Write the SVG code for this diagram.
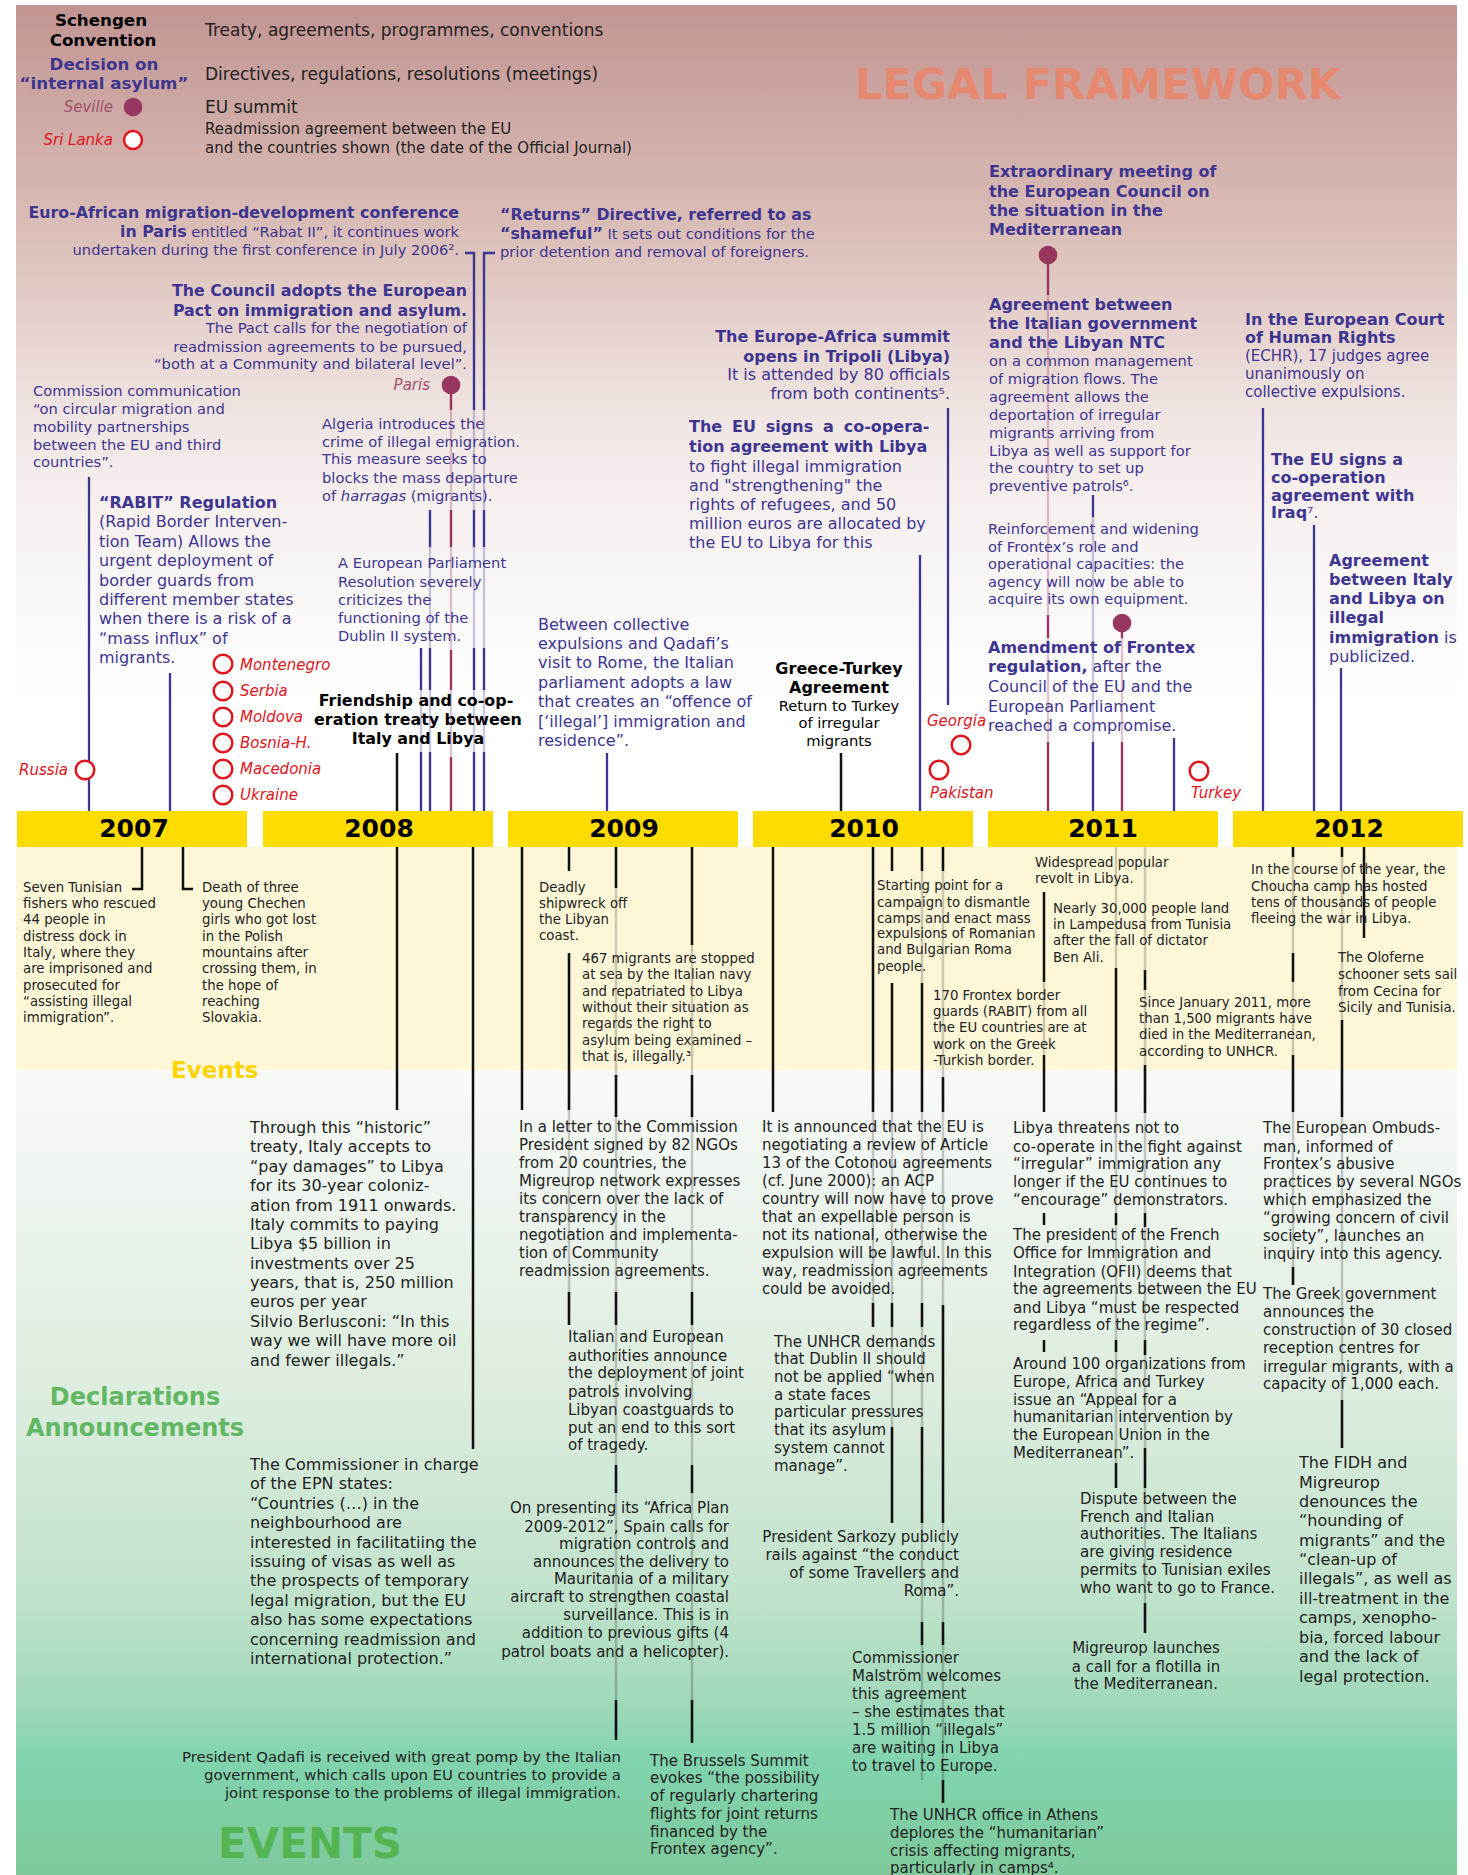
<svg xmlns="http://www.w3.org/2000/svg" width="1468" height="1875" viewBox="0 0 1468 1875">
<defs>
<linearGradient id="gLegal" x1="0" y1="0" x2="0" y2="1">
<stop offset="0" stop-color="#c19492"/>
<stop offset="0.29" stop-color="#dcbfb9"/>
<stop offset="0.49" stop-color="#eee2df"/>
<stop offset="0.57" stop-color="#f4ecea"/>
<stop offset="0.76" stop-color="#fbf9f9"/>
<stop offset="0.87" stop-color="#ffffff"/>
</linearGradient>
<linearGradient id="gDecl" x1="0" y1="0" x2="0" y2="1">
<stop offset="0" stop-color="#f8faf7"/>
<stop offset="0.41" stop-color="#dcecde"/>
<stop offset="0.66" stop-color="#bfe2cb"/>
<stop offset="0.78" stop-color="#a2d9bb"/>
<stop offset="0.86" stop-color="#80d3ae"/>
<stop offset="1" stop-color="#7fc99c"/>
</linearGradient>
<style>
text{font-family:"DejaVu Sans",Verdana,sans-serif}
.b{font-weight:bold}
.i{font-style:italic}
.pu{fill:#3d3590}
.dk{fill:#222}
.bk{fill:#000}
.red{fill:#e0141c}
.mvt{fill:#a0506e}
.f13{font-size:13.3px}
.f147{font-size:14.7px}
.f15{font-size:15px}
.f16{font-size:16px}
.f17{font-size:17px}
.bar{fill:#ffdc00}
.yr{font-size:25px;font-weight:bold;fill:#000;text-anchor:middle}
.cr{fill:#fff;stroke:#e0141c;stroke-width:2.5}
.cf{fill:#97365f}
.lp{stroke:#3d3590;stroke-width:2.3;fill:none}
.lpf{stroke:#3d3590;stroke-opacity:0.28;stroke-width:2.3;fill:none}
.lm{stroke:#97365f;stroke-width:2.3;fill:none}
.lmf{stroke:#97365f;stroke-opacity:0.3;stroke-width:2.3;fill:none}
.lk{stroke:#111;stroke-width:2.5;fill:none}
.lkf{stroke:#000;stroke-opacity:0.2;stroke-width:2.5;fill:none}
</style>
</defs>

<g id="background">
<rect x="16" y="5" width="1441" height="806" fill="url(#gLegal)"/>
<rect x="16" y="847" width="1441" height="223" fill="#fdf7d7"/>
<rect x="16" y="1070" width="1441" height="805" fill="url(#gDecl)"/>
</g>

<g id="section-labels">
<text x="855" y="99" class="b" font-size="43" fill="#e5886f">LEGAL FRAMEWORK</text>
<text x="171" y="1078" class="b" font-size="23" fill="#ffd400">Events</text>
<text class="b" font-size="24" fill="#62b862" text-anchor="middle"><tspan x="135" y="1405">Declarations</tspan><tspan x="135" y="1436">Announcements</tspan></text>
<text x="218" y="1858" class="b" font-size="42" fill="#55b452">EVENTS</text>
</g>

<g id="legend">
<text class="b bk" font-size="16.7" text-anchor="middle"><tspan x="101" y="26">Schengen</tspan><tspan x="103" y="46">Convention</tspan></text>
<text class="b pu" font-size="16.7" text-anchor="middle"><tspan x="104" y="70">Decision on</tspan><tspan x="104" y="89">“internal asylum”</tspan></text>
<text class="i mvt f15" x="113" y="112" text-anchor="end">Seville</text>
<circle class="cf" cx="133" cy="107" r="9.3"/>
<text class="i red f15" x="113" y="145" text-anchor="end">Sri Lanka</text>
<circle class="cr" cx="133" cy="140" r="9"/>
<text class="dk f17" x="205" y="36">Treaty, agreements, programmes, conventions</text>
<text class="dk f17" x="205" y="80">Directives, regulations, resolutions (meetings)</text>
<text class="dk f17" x="205" y="113">EU summit</text>
<text class="dk f15"><tspan x="205" y="134">Readmission agreement between the EU</tspan><tspan x="205" y="153">and the countries shown (the date of the Official Journal)</tspan></text>
</g>

<g id="connectors">
<path class="lpf" d="M421,648V811M430,510V811M474,253V811M484,253V811M1093,495V811"/>
<path class="lp" d="M89,477V811M170,673V811M421,648V690M421,752V811M430,510V547M430,648V690M430,752V811M465,253H474V410M474,510V547M474,648V690M474,752V811M495,253H484V410M484,510V547M484,648V690M484,752V811M607,753V811M920,555V811M948,408V705M1093,495V517M1093,742V811M1174,738V811M1263,408V811M1314,525V811M1341,668V811"/>
<path class="lmf" d="M451,394V811M1048,264V811M1122,632V811"/>
<path class="lm" d="M451,394V410M451,510V547M451,650V690M451,757V811M1048,264V295M1048,615V638M1048,742V811M1122,632V638M1122,742V811"/>
<path class="lk" d="M397,753V811M841,753V811"/>
<path class="lkf" d="M569,953V1325M616,847V1740M692,847V1743M873,847V1327M892,983V1523M922,847V1780M943,847V1803M1044,982V1055M1116,847V1488M1145,847V1633M1293,847V1285M1342,847V1448"/>
<path class="lk" d="M142,847V889H132M183,847V889H193M397,847V1110M473,847V1449M522,847V1110M569,847V871M569,953V1110M569,1292V1325M616,847V888M616,1075V1117M616,1292V1325M616,1465V1493M616,1700V1740M692,847V945M692,1075V1117M692,1292V1325M692,1465V1493M692,1700V1743M773,847V1112M873,847V1112M873,1303V1327M892,847V871M892,983V1112M892,1303V1327M892,1427V1523M922,847V871M922,983V1112M922,1303V1327M922,1427V1523M922,1622V1645M943,847V871M943,1077V1112M943,1305V1523M943,1622V1645M943,1780V1803M1044,892V982M1044,1055V1112M1044,1213V1225M1044,1340V1352M1116,968V1112M1116,1213V1225M1116,1340V1352M1116,1463V1488M1145,970V990M1145,1065V1113M1145,1213V1227M1145,1340V1355M1145,1448V1488M1145,1603V1633M1293,847V857M1293,953V982M1293,1055V1112M1293,1267V1285M1342,847V857M1342,1020V1117M1342,1400V1448M1364,847V938"/>
</g>

<g id="year-bars">
<rect class="bar" x="17" y="811" width="230" height="36"/>
<rect class="bar" x="263" y="811" width="230" height="36"/>
<rect class="bar" x="508" y="811" width="230" height="36"/>
<rect class="bar" x="753" y="811" width="220" height="36"/>
<rect class="bar" x="988" y="811" width="230" height="36"/>
<rect class="bar" x="1233" y="811" width="230" height="36"/>
<text class="yr" x="134" y="837">2007</text>
<text class="yr" x="379" y="837">2008</text>
<text class="yr" x="624" y="837">2009</text>
<text class="yr" x="864" y="837">2010</text>
<text class="yr" x="1103" y="837">2011</text>
<text class="yr" x="1349" y="837">2012</text>
</g>

<g id="readmission-circles">
<circle class="cr" cx="85" cy="770" r="9.3"/>
<text class="i red f15" x="68" y="775" text-anchor="end">Russia</text>
<circle class="cr" cx="223" cy="664" r="9.3"/>
<circle class="cr" cx="223" cy="691" r="9.3"/>
<circle class="cr" cx="223" cy="717" r="9.3"/>
<circle class="cr" cx="223" cy="743" r="9.3"/>
<circle class="cr" cx="223" cy="769" r="9.3"/>
<circle class="cr" cx="223" cy="795" r="9.3"/>
<text class="i red f15"><tspan x="240" y="670">Montenegro</tspan><tspan x="240" y="696">Serbia</tspan><tspan x="240" y="722">Moldova</tspan><tspan x="240" y="748">Bosnia-H.</tspan><tspan x="240" y="774">Macedonia</tspan><tspan x="240" y="800">Ukraine</tspan></text>
<circle class="cr" cx="961" cy="745" r="9.3"/>
<text class="i red f15" x="927" y="726">Georgia</text>
<circle class="cr" cx="939" cy="770" r="9.3"/>
<text class="i red f15" x="930" y="798">Pakistan</text>
<circle class="cr" cx="1199" cy="771" r="9.3"/>
<text class="i red f15" x="1191" y="798">Turkey</text>
</g>

<g id="legal-2007">
<text class="pu f147"><tspan x="33" y="396">Commission communication</tspan><tspan x="33" y="414">“on circular migration and</tspan><tspan x="33" y="432">mobility partnerships</tspan><tspan x="33" y="450">between the EU and third</tspan><tspan x="33" y="467">countries”.</tspan></text>
<text class="pu f16"><tspan x="99" y="508" class="b">“RABIT” Regulation</tspan><tspan x="99" y="527">(Rapid Border Interven-</tspan><tspan x="99" y="547">tion Team) Allows the</tspan><tspan x="99" y="566">urgent deployment of</tspan><tspan x="99" y="586">border guards from</tspan><tspan x="99" y="605">different member states</tspan><tspan x="99" y="624">when there is a risk of a</tspan><tspan x="99" y="644">“mass influx” of</tspan><tspan x="99" y="663">migrants.</tspan></text>
</g>

<g id="legal-2008">
<text class="pu f147" text-anchor="end"><tspan x="459" y="218" class="b" font-size="15.8">Euro-African migration-development conference</tspan><tspan x="459" y="237"><tspan class="b" font-size="15.8">in Paris</tspan> entitled “Rabat II”, it continues work</tspan><tspan x="459" y="255">undertaken during the first conference in July 2006².</tspan></text>
<text class="pu f147"><tspan x="500" y="220" class="b" font-size="15.8">“Returns” Directive, referred to as</tspan><tspan x="500" y="239"><tspan class="b" font-size="15.8">“shameful”</tspan> It sets out conditions for the</tspan><tspan x="500" y="257">prior detention and removal of foreigners.</tspan></text>
<text class="pu f147" text-anchor="end"><tspan x="467" y="296" class="b" font-size="15.8">The Council adopts the European</tspan><tspan x="467" y="316" class="b" font-size="15.8">Pact on immigration and asylum.</tspan><tspan x="467" y="333">The Pact calls for the negotiation of</tspan><tspan x="467" y="352">readmission agreements to be pursued,</tspan><tspan x="467" y="369">“both at a Community and bilateral level”.</tspan></text>
<text class="i mvt f15" x="430" y="390" text-anchor="end">Paris</text>
<circle class="cf" cx="451" cy="385" r="9.3"/>
<text class="pu f147"><tspan x="322" y="429">Algeria introduces the</tspan><tspan x="322" y="447">crime of illegal emigration.</tspan><tspan x="322" y="464">This measure seeks to</tspan><tspan x="322" y="483">blocks the mass departure</tspan><tspan x="322" y="501">of <tspan class="i">harragas</tspan> (migrants).</tspan></text>
<text class="pu f147"><tspan x="338" y="568">A European Parliament</tspan><tspan x="338" y="587">Resolution severely</tspan><tspan x="338" y="605">criticizes the</tspan><tspan x="338" y="623">functioning of the</tspan><tspan x="338" y="641">Dublin II system.</tspan></text>
<text class="b bk" font-size="15.9" text-anchor="middle"><tspan x="416" y="706">Friendship and co-op-</tspan><tspan x="418" y="725">eration treaty between</tspan><tspan x="418" y="744">Italy and Libya</tspan></text>
</g>

<g id="legal-2009">
<text class="pu f16"><tspan x="538" y="630">Between collective</tspan><tspan x="538" y="649">expulsions and Qadafi’s</tspan><tspan x="538" y="668">visit to Rome, the Italian</tspan><tspan x="538" y="688">parliament adopts a law</tspan><tspan x="538" y="707">that creates an “offence of</tspan><tspan x="538" y="727">[‘illegal’] immigration and</tspan><tspan x="538" y="746">residence”.</tspan></text>
</g>

<g id="legal-2010">
<text class="pu f16" text-anchor="end"><tspan x="950" y="342" class="b">The Europe-Africa summit</tspan><tspan x="950" y="362" class="b">opens in Tripoli (Libya)</tspan><tspan x="950" y="380">It is attended by 80 officials</tspan><tspan x="950" y="399">from both continents⁵.</tspan></text>
<text class="pu f16"><tspan x="689" y="432" class="b" word-spacing="4.3">The EU signs a co-opera-</tspan><tspan x="689" y="452" class="b">tion agreement with Libya</tspan><tspan x="689" y="472">to fight illegal immigration</tspan><tspan x="689" y="491">and "strengthening" the</tspan><tspan x="689" y="510">rights of refugees, and 50</tspan><tspan x="689" y="529">million euros are allocated by</tspan><tspan x="689" y="548">the EU to Libya for this</tspan></text>
<text class="bk" text-anchor="middle"><tspan x="839" y="674" class="b f16">Greece-Turkey</tspan><tspan x="839" y="693" class="b f16">Agreement</tspan><tspan x="839" y="711" class="f147">Return to Turkey</tspan><tspan x="839" y="728" class="f147">of irregular</tspan><tspan x="839" y="746" class="f147">migrants</tspan></text>
</g>

<g id="legal-2011">
<text class="pu b f16"><tspan x="989" y="177">Extraordinary meeting of</tspan><tspan x="989" y="197">the European Council on</tspan><tspan x="989" y="216">the situation in the</tspan><tspan x="989" y="235">Mediterranean</tspan></text>
<circle class="cf" cx="1048" cy="255" r="9.3"/>
<text class="pu f147"><tspan x="989" y="310" class="b f16">Agreement between</tspan><tspan x="989" y="329" class="b f16">the Italian government</tspan><tspan x="989" y="348" class="b f16">and the Libyan NTC</tspan><tspan x="989" y="366">on a common management</tspan><tspan x="989" y="384">of migration flows. The</tspan><tspan x="989" y="402">agreement allows the</tspan><tspan x="989" y="420">deportation of irregular</tspan><tspan x="989" y="438">migrants arriving from</tspan><tspan x="989" y="456">Libya as well as support for</tspan><tspan x="989" y="473">the country to set up</tspan><tspan x="989" y="491">preventive patrols⁶.</tspan></text>
<text class="pu f147"><tspan x="988" y="534">Reinforcement and widening</tspan><tspan x="988" y="552">of Frontex’s role and</tspan><tspan x="988" y="569">operational capacities: the</tspan><tspan x="988" y="587">agency will now be able to</tspan><tspan x="988" y="604">acquire its own equipment.</tspan></text>
<circle class="cf" cx="1122" cy="623" r="9.3"/>
<text class="pu f16"><tspan x="988" y="653" class="b">Amendment of Frontex</tspan><tspan x="988" y="672"><tspan class="b">regulation,</tspan> after the</tspan><tspan x="988" y="692">Council of the EU and the</tspan><tspan x="988" y="712">European Parliament</tspan><tspan x="988" y="731">reached a compromise.</tspan></text>
</g>

<g id="legal-2012">
<text class="pu f15"><tspan x="1245" y="325" class="b f16">In the European Court</tspan><tspan x="1245" y="343" class="b f16">of Human Rights</tspan><tspan x="1245" y="361">(ECHR), 17 judges agree</tspan><tspan x="1245" y="379">unanimously on</tspan><tspan x="1245" y="397">collective expulsions.</tspan></text>
<text class="pu b f16"><tspan x="1271" y="465">The EU signs a</tspan><tspan x="1271" y="483">co-operation</tspan><tspan x="1271" y="501">agreement with</tspan><tspan x="1271" y="518">Iraq<tspan font-weight="normal">⁷.</tspan></tspan></text>
<text class="pu f16"><tspan x="1329" y="566" class="b">Agreement</tspan><tspan x="1329" y="585" class="b">between Italy</tspan><tspan x="1329" y="604" class="b">and Libya on</tspan><tspan x="1329" y="623" class="b">illegal</tspan><tspan x="1329" y="643"><tspan class="b">immigration</tspan> is</tspan><tspan x="1329" y="662">publicized.</tspan></text>
</g>

<g id="events-2007">
<text class="dk f13"><tspan x="23" y="892">Seven Tunisian</tspan><tspan x="23" y="908">fishers who rescued</tspan><tspan x="23" y="924">44 people in</tspan><tspan x="23" y="941">distress dock in</tspan><tspan x="23" y="957">Italy, where they</tspan><tspan x="23" y="973">are imprisoned and</tspan><tspan x="23" y="990">prosecuted for</tspan><tspan x="23" y="1006">“assisting illegal</tspan><tspan x="23" y="1022">immigration”.</tspan></text>
<text class="dk f13"><tspan x="202" y="892">Death of three</tspan><tspan x="202" y="908">young Chechen</tspan><tspan x="202" y="924">girls who got lost</tspan><tspan x="202" y="941">in the Polish</tspan><tspan x="202" y="957">mountains after</tspan><tspan x="202" y="973">crossing them, in</tspan><tspan x="202" y="990">the hope of</tspan><tspan x="202" y="1006">reaching</tspan><tspan x="202" y="1022">Slovakia.</tspan></text>
</g>

<g id="events-2009">
<text class="dk f13"><tspan x="539" y="892">Deadly</tspan><tspan x="539" y="908">shipwreck off</tspan><tspan x="539" y="924">the Libyan</tspan><tspan x="539" y="940">coast.</tspan></text>
<text class="dk f13"><tspan x="582" y="963">467 migrants are stopped</tspan><tspan x="582" y="979">at sea by the Italian navy</tspan><tspan x="582" y="996">and repatriated to Libya</tspan><tspan x="582" y="1012">without their situation as</tspan><tspan x="582" y="1028">regards the right to</tspan><tspan x="582" y="1045">asylum being examined –</tspan><tspan x="582" y="1061">that is, illegally.³</tspan></text>
</g>

<g id="events-2010">
<text class="dk f13"><tspan x="877" y="890">Starting point for a</tspan><tspan x="877" y="907">campaign to dismantle</tspan><tspan x="877" y="923">camps and enact mass</tspan><tspan x="877" y="938">expulsions of Romanian</tspan><tspan x="877" y="954">and Bulgarian Roma</tspan><tspan x="877" y="971">people.</tspan></text>
<text class="dk f13"><tspan x="933" y="1000">170 Frontex border</tspan><tspan x="933" y="1016">guards (RABIT) from all</tspan><tspan x="933" y="1032">the EU countries are at</tspan><tspan x="933" y="1049">work on the Greek</tspan><tspan x="933" y="1065">-Turkish border.</tspan></text>
</g>

<g id="events-2011">
<text class="dk f13"><tspan x="1035" y="867">Widespread popular</tspan><tspan x="1035" y="883">revolt in Libya.</tspan></text>
<text class="dk f13"><tspan x="1053" y="913">Nearly 30,000 people land</tspan><tspan x="1053" y="929">in Lampedusa from Tunisia</tspan><tspan x="1053" y="945">after the fall of dictator</tspan><tspan x="1053" y="962">Ben Ali.</tspan></text>
<text class="dk f13"><tspan x="1139" y="1007">Since January 2011, more</tspan><tspan x="1139" y="1023">than 1,500 migrants have</tspan><tspan x="1139" y="1039">died in the Mediterranean,</tspan><tspan x="1139" y="1056">according to UNHCR.</tspan></text>
</g>

<g id="events-2012">
<text class="dk f13"><tspan x="1251" y="874">In the course of the year, the</tspan><tspan x="1251" y="891">Choucha camp has hosted</tspan><tspan x="1251" y="907">tens of thousands of people</tspan><tspan x="1251" y="923">fleeing the war in Libya.</tspan></text>
<text class="dk f13"><tspan x="1338" y="962">The Oloferne</tspan><tspan x="1338" y="979">schooner sets sail</tspan><tspan x="1338" y="996">from Cecina for</tspan><tspan x="1338" y="1012">Sicily and Tunisia.</tspan></text>
</g>

<g id="decl-2008">
<text class="dk f16"><tspan x="250" y="1133">Through this “historic”</tspan><tspan x="250" y="1152">treaty, Italy accepts to</tspan><tspan x="250" y="1172">“pay damages” to Libya</tspan><tspan x="250" y="1191">for its 30-year coloniz-</tspan><tspan x="250" y="1211">ation from 1911 onwards.</tspan><tspan x="250" y="1230">Italy commits to paying</tspan><tspan x="250" y="1249">Libya $5 billion in</tspan><tspan x="250" y="1269">investments over 25</tspan><tspan x="250" y="1288">years, that is, 250 million</tspan><tspan x="250" y="1307">euros per year</tspan><tspan x="250" y="1327">Silvio Berlusconi: “In this</tspan><tspan x="250" y="1346">way we will have more oil</tspan><tspan x="250" y="1366">and fewer illegals.”</tspan></text>
<text class="dk f16"><tspan x="250" y="1470">The Commissioner in charge</tspan><tspan x="250" y="1489">of the EPN states:</tspan><tspan x="250" y="1509">“Countries (…) in the</tspan><tspan x="250" y="1528">neighbourhood are</tspan><tspan x="250" y="1548">interested in facilitatiing the</tspan><tspan x="250" y="1567">issuing of visas as well as</tspan><tspan x="250" y="1586">the prospects of temporary</tspan><tspan x="250" y="1606">legal migration, but the EU</tspan><tspan x="250" y="1625">also has some expectations</tspan><tspan x="250" y="1645">concerning readmission and</tspan><tspan x="250" y="1664">international protection.”</tspan></text>
</g>

<g id="decl-2009">
<text class="dk f15"><tspan x="519" y="1132">In a letter to the Commission</tspan><tspan x="519" y="1150">President signed by 82 NGOs</tspan><tspan x="519" y="1168">from 20 countries, the</tspan><tspan x="519" y="1186">Migreurop network expresses</tspan><tspan x="519" y="1204">its concern over the lack of</tspan><tspan x="519" y="1222">transparency in the</tspan><tspan x="519" y="1240">negotiation and implementa-</tspan><tspan x="519" y="1258">tion of Community</tspan><tspan x="519" y="1276">readmission agreements.</tspan></text>
<text class="dk f15"><tspan x="568" y="1342">Italian and European</tspan><tspan x="568" y="1361">authorities announce</tspan><tspan x="568" y="1378">the deployment of joint</tspan><tspan x="568" y="1397">patrols involving</tspan><tspan x="568" y="1415">Libyan coastguards to</tspan><tspan x="568" y="1433">put an end to this sort</tspan><tspan x="568" y="1450">of tragedy.</tspan></text>
<text class="dk f15" text-anchor="end"><tspan x="729" y="1513">On presenting its “Africa Plan</tspan><tspan x="729" y="1532">2009-2012”, Spain calls for</tspan><tspan x="729" y="1549">migration controls and</tspan><tspan x="729" y="1567">announces the delivery to</tspan><tspan x="729" y="1584">Mauritania of a military</tspan><tspan x="729" y="1602">aircraft to strengthen coastal</tspan><tspan x="729" y="1620">surveillance. This is in</tspan><tspan x="729" y="1638">addition to previous gifts (4</tspan><tspan x="729" y="1657">patrol boats and a helicopter).</tspan></text>
<text class="dk" font-size="14.9" text-anchor="end"><tspan x="621" y="1762">President Qadafi is received with great pomp by the Italian</tspan><tspan x="621" y="1780">government, which calls upon EU countries to provide a</tspan><tspan x="621" y="1798">joint response to the problems of illegal immigration.</tspan></text>
<text class="dk f15"><tspan x="650" y="1766">The Brussels Summit</tspan><tspan x="650" y="1783">evokes “the possibility</tspan><tspan x="650" y="1801">of regularly chartering</tspan><tspan x="650" y="1819">flights for joint returns</tspan><tspan x="650" y="1837">financed by the</tspan><tspan x="650" y="1854">Frontex agency”.</tspan></text>
</g>

<g id="decl-2010">
<text class="dk f15"><tspan x="762" y="1132">It is announced that the EU is</tspan><tspan x="762" y="1150">negotiating a review of Article</tspan><tspan x="762" y="1168">13 of the Cotonou agreements</tspan><tspan x="762" y="1186">(cf. June 2000): an ACP</tspan><tspan x="762" y="1204">country will now have to prove</tspan><tspan x="762" y="1222">that an expellable person is</tspan><tspan x="762" y="1240">not its national, otherwise the</tspan><tspan x="762" y="1258">expulsion will be lawful. In this</tspan><tspan x="762" y="1276">way, readmission agreements</tspan><tspan x="762" y="1294">could be avoided.</tspan></text>
<text class="dk f15"><tspan x="774" y="1347">The UNHCR demands</tspan><tspan x="774" y="1364">that Dublin II should</tspan><tspan x="774" y="1382">not be applied “when</tspan><tspan x="774" y="1400">a state faces</tspan><tspan x="774" y="1417">particular pressures</tspan><tspan x="774" y="1435">that its asylum</tspan><tspan x="774" y="1453">system cannot</tspan><tspan x="774" y="1471">manage”.</tspan></text>
<text class="dk f15" text-anchor="end"><tspan x="959" y="1542">President Sarkozy publicly</tspan><tspan x="959" y="1560">rails against “the conduct</tspan><tspan x="959" y="1578">of some Travellers and</tspan><tspan x="959" y="1596">Roma”.</tspan></text>
<text class="dk f15"><tspan x="852" y="1663">Commissioner</tspan><tspan x="852" y="1681">Malström welcomes</tspan><tspan x="852" y="1699">this agreement</tspan><tspan x="852" y="1717">– she estimates that</tspan><tspan x="852" y="1735">1.5 million “illegals”</tspan><tspan x="852" y="1753">are waiting in Libya</tspan><tspan x="852" y="1771">to travel to Europe.</tspan></text>
<text class="dk f15"><tspan x="890" y="1820">The UNHCR office in Athens</tspan><tspan x="890" y="1838">deplores the “humanitarian”</tspan><tspan x="890" y="1856">crisis affecting migrants,</tspan><tspan x="890" y="1873">particularly in camps⁴.</tspan></text>
</g>

<g id="decl-2011">
<text class="dk f15"><tspan x="1013" y="1133">Libya threatens not to</tspan><tspan x="1013" y="1152">co-operate in the fight against</tspan><tspan x="1013" y="1169">“irregular” immigration any</tspan><tspan x="1013" y="1187">longer if the EU continues to</tspan><tspan x="1013" y="1205">“encourage” demonstrators.</tspan></text>
<text class="dk f15"><tspan x="1013" y="1240">The president of the French</tspan><tspan x="1013" y="1258">Office for Immigration and</tspan><tspan x="1013" y="1277">Integration (OFII) deems that</tspan><tspan x="1013" y="1294">the agreements between the EU</tspan><tspan x="1013" y="1313">and Libya “must be respected</tspan><tspan x="1013" y="1330">regardless of the regime”.</tspan></text>
<text class="dk f15"><tspan x="1013" y="1369">Around 100 organizations from</tspan><tspan x="1013" y="1387">Europe, Africa and Turkey</tspan><tspan x="1013" y="1405">issue an “Appeal for a</tspan><tspan x="1013" y="1422">humanitarian intervention by</tspan><tspan x="1013" y="1440">the European Union in the</tspan><tspan x="1013" y="1458">Mediterranean”.</tspan></text>
<text class="dk f15"><tspan x="1080" y="1504">Dispute between the</tspan><tspan x="1080" y="1522">French and Italian</tspan><tspan x="1080" y="1539">authorities. The Italians</tspan><tspan x="1080" y="1557">are giving residence</tspan><tspan x="1080" y="1575">permits to Tunisian exiles</tspan><tspan x="1080" y="1593">who want to go to France.</tspan></text>
<text class="dk f15" text-anchor="middle"><tspan x="1146" y="1653">Migreurop launches</tspan><tspan x="1146" y="1672">a call for a flotilla in</tspan><tspan x="1146" y="1689">the Mediterranean.</tspan></text>
</g>

<g id="decl-2012">
<text class="dk f15"><tspan x="1263" y="1133">The European Ombuds-</tspan><tspan x="1263" y="1152">man, informed of</tspan><tspan x="1263" y="1169">Frontex’s abusive</tspan><tspan x="1263" y="1187">practices by several NGOs</tspan><tspan x="1263" y="1205">which emphasized the</tspan><tspan x="1263" y="1223">“growing concern of civil</tspan><tspan x="1263" y="1241">society”, launches an</tspan><tspan x="1263" y="1259">inquiry into this agency.</tspan></text>
<text class="dk f15"><tspan x="1263" y="1299">The Greek government</tspan><tspan x="1263" y="1317">announces the</tspan><tspan x="1263" y="1335">construction of 30 closed</tspan><tspan x="1263" y="1353">reception centres for</tspan><tspan x="1263" y="1372">irregular migrants, with a</tspan><tspan x="1263" y="1389">capacity of 1,000 each.</tspan></text>
<text class="dk f16"><tspan x="1299" y="1468">The FIDH and</tspan><tspan x="1299" y="1488">Migreurop</tspan><tspan x="1299" y="1507">denounces the</tspan><tspan x="1299" y="1526">“hounding of</tspan><tspan x="1299" y="1546">migrants” and the</tspan><tspan x="1299" y="1565">“clean-up of</tspan><tspan x="1299" y="1584">illegals”, as well as</tspan><tspan x="1299" y="1604">ill-treatment in the</tspan><tspan x="1299" y="1623">camps, xenopho-</tspan><tspan x="1299" y="1643">bia, forced labour</tspan><tspan x="1299" y="1662">and the lack of</tspan><tspan x="1299" y="1682">legal protection.</tspan></text>
</g>
</svg>
